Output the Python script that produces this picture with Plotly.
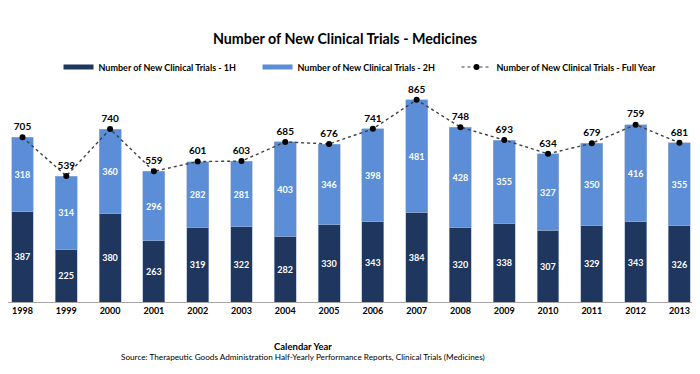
import plotly.graph_objects as go

years = ["1998","1999","2000","2001","2002","2003","2004","2005","2006","2007","2008","2009","2010","2011","2012","2013"]
h1 = [387,225,380,263,319,322,282,330,343,384,320,338,307,329,343,326]
h2 = [318,314,360,296,282,281,403,346,398,481,428,355,327,350,416,355]
full = [705,539,740,559,601,603,685,676,741,865,748,693,634,679,759,681]

name1 = "Number of New Clinical Trials - 1H"
name2 = "Number of New Clinical Trials - 2H"
name3 = "Number of New Clinical Trials - Full Year"

FONT = "Lato, Liberation Sans, Arial"
dark = "#1f365f"
light = "#5b8ed6"

fig = go.Figure()
fig.add_trace(go.Bar(x=years, y=h1, name=name1, showlegend=False,
                     marker=dict(color=dark, line=dict(color="#9db3d6", width=0.6)),
                     text=h1, textposition="inside", insidetextanchor="middle",
                     textfont=dict(color="white", size=10, family=FONT, weight="bold"), textangle=0))
fig.add_trace(go.Bar(x=years, y=h2, name=name2, showlegend=False,
                     marker=dict(color=light, line=dict(color="#9db3d6", width=0.6)),
                     text=h2, textposition="inside", insidetextanchor="middle",
                     textfont=dict(color="white", size=10, family=FONT, weight="bold"), textangle=0))
fig.add_trace(go.Scatter(x=years, y=full, name=name3, showlegend=False,
                         mode="lines+markers+text", text=full, textposition="top center",
                         textfont=dict(color="black", size=10, family=FONT, weight="bold"),
                         line=dict(color="#404040", width=1.4, dash="dot"),
                         marker=dict(color="black", size=6)))
# legend stubs (wide flat swatches like the reference)
fig.add_trace(go.Scatter(x=[None], y=[None], mode="lines", name=name1,
                         line=dict(color=dark, width=5)))
fig.add_trace(go.Scatter(x=[None], y=[None], mode="lines", name=name2,
                         line=dict(color=light, width=5)))
fig.add_trace(go.Scatter(x=[None], y=[None], mode="lines+markers", name=name3,
                         line=dict(color="#404040", width=1.2, dash="dot"),
                         marker=dict(color="black", size=6)))

fig.update_layout(
    width=700, height=374, barmode="stack", bargap=0.5,
    plot_bgcolor="white", paper_bgcolor="white",
    margin=dict(l=0, r=8, t=72, b=80, autoexpand=False),
    font=dict(family=FONT, color="black"),
    title=dict(text="<b>Number of New Clinical Trials - Medicines</b>", x=337/700, xanchor="center",
               y=1 - 31/374, yanchor="middle", font=dict(size=14.3, family=FONT)),
    legend=dict(orientation="h", x=0.073, xanchor="left", y=(294-59)/222, yanchor="middle",
                font=dict(size=9, family=FONT, weight="bold"), entrywidth=154, traceorder="normal",
                itemwidth=30),
    xaxis=dict(showline=True, linecolor="#a6a6a6", linewidth=1, ticks="", automargin=False,
               range=[-0.331, 15.47],
               tickfont=dict(size=9, family=FONT, weight="bold")),
    yaxis=dict(range=[0, 950], visible=False, showgrid=False, automargin=False),
    uniformtext=dict(minsize=8, mode="show"),
    annotations=[
        dict(text="<b>Calendar Year</b>", x=295/692, y=(294-338)/222, xref="paper", yref="paper",
             xanchor="center", yanchor="middle", showarrow=False, font=dict(size=9.5, family=FONT)),
        dict(text="Source: Therapeutic Goods Administration Half-Yearly Performance Reports, Clinical Trials (Medicines)",
             x=295/692, y=(294-349)/222, xref="paper", yref="paper",
             xanchor="center", yanchor="middle", showarrow=False, font=dict(size=8.2, family=FONT)),
    ],
)
fig.write_html("out.html")
